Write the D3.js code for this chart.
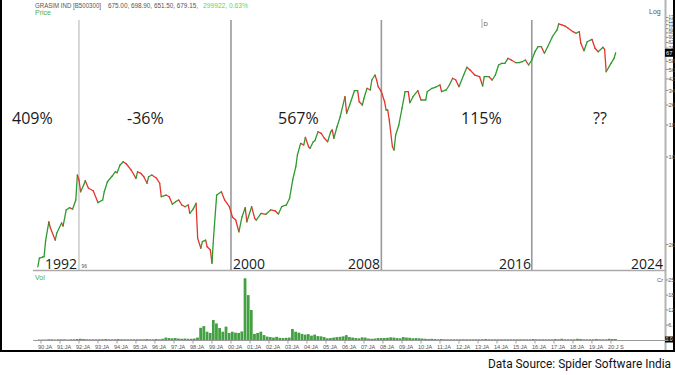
<!DOCTYPE html>
<html>
<head>
<meta charset="utf-8">
<script src="https://cdn.jsdelivr.net/npm/d3@7"></script>
<style>
html, body { margin: 0; padding: 0; background: #fff; }
svg { display: block; }
.small { font-family: "Liberation Sans", Arial, sans-serif; font-size: 7px; fill: #555; }
.big { font-family: "Open Sans", sans-serif; fill: #1a1a1a; }
</style>
</head>
<body>
<div id="chart"></div>
<script>
// price (log scale)
var priceDates = ["1989-11","1989-12","1990-02","1990-03","1990-04","1990-06","1990-07","1990-10","1990-11",
  "1991-02","1991-03","1991-05","1991-07","1991-09","1991-11","1991-12","1992-01","1992-02","1992-04","1992-05",
  "1992-07","1992-10","1993-01","1993-04","1993-05","1993-07","1993-10","1993-12","1994-01","1994-03","1994-05",
  "1994-07","1994-10","1995-01","1995-02","1995-04","1995-06","1995-08","1995-09","1995-11","1996-02","1996-04",
  "1996-05","1996-08","1996-10","1996-12","1997-02","1997-04","1997-06","1997-08","1997-10","1997-11","1998-01",
  "1998-03","1998-04","1998-06","1998-07","1998-09","1998-10","1998-12","1999-01","1999-02","1999-04","1999-07",
  "1999-09","1999-12","2000-02","2000-04","2000-06","2000-08","2000-10","2000-11","2001-02","2001-04","2001-05",
  "2001-08","2001-11","2002-02","2002-05","2002-07","2002-09","2002-12","2003-02","2003-04","2003-06","2003-07",
  "2003-09","2003-11","2003-12","2004-02","2004-03","2004-05","2004-06","2004-08","2004-10","2004-12","2005-02",
  "2005-04","2005-05","2005-06","2005-08","2005-10","2006-01","2006-02","2006-04","2006-07","2006-09","2006-10",
  "2006-12","2007-01","2007-03","2007-05","2007-06","2007-08","2007-09","2007-10","2007-12","2008-02","2008-03",
  "2008-04","2008-05","2008-07","2008-08","2008-09","2008-11","2009-01","2009-03","2009-05","2009-06","2009-08",
  "2009-11","2010-01","2010-04","2010-05","2010-08","2010-10","2011-01","2011-02","2011-05","2011-07","2011-09",
  "2011-11","2012-01","2012-04","2012-06","2012-08","2012-11","2013-02","2013-04","2013-05","2013-08","2013-10",
  "2013-12","2014-02","2014-04","2014-06","2014-08","2014-10","2015-01","2015-03","2015-05","2015-07","2015-09",
  "2015-11","2016-01","2016-03","2016-05","2016-07","2016-09","2016-12","2017-03","2017-04","2017-06","2017-08",
  "2017-10","2018-01","2018-03","2018-05","2018-06","2018-08","2018-10","2019-01","2019-03","2019-05","2019-08",
  "2019-09","2019-10","2020-01","2020-03","2020-04"];
var priceValues = [13.3,15.6,15.9,16.0,21.7,30.4,27.1,21.7,24.7,
  29.7,28.1,37.8,39.4,38.4,45.4,71.8,65.5,52.8,59.8,64.7,
  56.3,53.8,43.2,45.4,52.8,63.5,70.5,76.3,74.9,86.3,91.7,
  87.9,78.7,67.6,76.3,74.1,69.6,61.7,69.6,71.8,67.6,61.7,
  48.2,49.7,48.2,41.9,44.0,45.4,41.4,40.1,41.4,35.5,38.2,
  42.7,22.4,18.7,21.1,21.7,19.2,18.1,14.2,23.1,49.7,52.8,
  45.4,40.1,33.0,31.4,25.3,33.4,39.4,30.4,40.1,32.4,31.4,
  35.5,34.9,37.8,37.1,35.1,40.1,41.4,46.8,65.5,83.7,103.7,
  128.6,124.7,143.6,120.8,117.3,132.5,134.9,159.2,154.6,141.1,132.5,
  159.2,164.3,141.1,174.5,209.8,302.9,223.3,260.1,338.3,338.3,276.4,
  260.1,294.2,353.6,342.8,411.7,451.3,411.7,364.1,332.1,276.4,237.3,
  237.3,197.4,120.8,113.7,149.8,180.1,245,332.1,332.1,271.3,302.9,
  338.3,285.1,285.1,332.1,353.6,360.1,375.7,332.1,342.8,375.7,424.9,
  411.7,364.1,451.3,520.2,495.0,451.3,437.6,368.8,437.6,437.6,411.7,
  451.3,542.5,559.7,559.7,613.6,594.8,566.0,566.0,576.4,594.8,542.5,
  594.8,692.9,759.6,759.6,672.7,759.6,912.5,1033,1153,1132,1111,
  1065,1001,972,1001,808.5,705.7,832.4,870,737.4,692.9,751.3,
  724.2,479.7,559.7,613.6,679.15];

// volume in Cr, two-month bars from volStart
var volStart = "1989-11";
var volValues = [0.2,
  0.2,0.2,0.3,0.3,0.2,0.3,  0.3,0.3,0.2,0.3,0.3,0.4,  0.5,0.4,0.3,0.3,0.3,0.3,
  0.3,0.3,0.4,0.3,0.3,0.3,  0.4,0.3,0.3,0.3,0.3,0.3,  0.3,0.3,0.3,0.4,0.3,0.3,
  0.4,0.3,0.5,1.0,0.8,0.7,  0.8,0.6,0.5,0.6,0.5,0.5,  0.6,1.0,5.0,5.7,3.4,2.9,
  8.2,6.8,4.9,3.4,5.5,2.9,  3.4,3.0,2.9,3.5,25.3,18.4, 12.3,2.5,2.9,3.4,2.0,1.4,
  1.2,1.0,1.3,0.9,0.8,0.9,  1.0,4.5,3.4,3.0,2.5,2.2,  2.4,1.8,2.2,1.6,1.5,1.2,
  0.7,0.8,1.0,1.2,1.3,1.5,  2.0,1.2,1.0,0.8,0.7,1.1,  1.0,0.6,0.5,0.6,0.8,0.8,
  0.8,0.9,1.1,1.0,0.8,0.7,  1.2,1.0,0.9,0.7,0.8,0.7,  0.6,0.5,0.4,0.5,0.4,0.3,
  0.4,0.3,0.3,0.3,0.3,0.3,  0.3,0.3,0.3,0.3,0.3,0.3,  0.3,0.3,0.4,0.3,0.3,0.3,
  0.3,0.3,0.3,0.3,0.3,0.3,  0.3,0.3,0.3,0.3,0.3,0.4,  0.3,0.3,0.3,0.3,0.3,0.3,
  0.4,0.3,0.5,0.3,0.3,0.3,  0.3,0.5,0.4,0.3,0.3,0.3,  0.3,0.4,0.3,0.3,0.3,0.5,
  0.4,0.4];

var priceTicks = [20,100,180,260,340,420,500,580,740,820,900,980,1060,1140,1220,1300];
var volTicks = [6.1, 12.3, 18.4, 24.6];
var volTickLabels = ["6.", "12", "18", "25"];
var xTickLabels = ["90:JA","91:JA","92:JA","93:JA","94:JA","95:JA","96:JA","97:JA","98:JA","99:JA",
  "00:JA","01:JA","02:JA","03:JA","04:JA","05:JA","06:JA","07:JA","08:JA","09:JA",
  "10:JA","11:JA","12:JA","13:JA","14:JA","15:JA","16:JA","17:JA","18:JA","19:JA","20:J S"];
var boundaryDates = ["1992-01", "2000-01", "2007-12", "2015-11"];
var yearLabels = ["1992", "2000", "2008", "2016", "2024"];
var periodLabels = ["409%", "-36%", "567%", "115%", "??"];

var width = 675, height = 375;
var green = "#2f9a2f", red = "#e4342c";
var parse = d3.timeParse("%Y-%m");

var svg = d3.select("#chart").append("svg")
  .attr("width", width)
  .attr("height", height);

var x = d3.scaleTime()
  .domain([new Date(1990, 0, 1), new Date(2021, 0, 1)])
  .range([41, 630]);
var y = d3.scaleLog().domain([12.53, 1792]).range([270, 0]);
var yv = d3.scaleLinear().domain([0, 25]).range([340, 279]);

// frame and panel lines
svg.append("line").attr("x1", 665.5).attr("x2", 665.5).attr("y1", 0).attr("y2", 351)
  .attr("stroke", "#b4b4b4").attr("stroke-width", 2);
svg.append("line").attr("x1", 33).attr("x2", 666).attr("y1", 270.5).attr("y2", 270.5)
  .attr("stroke", "#aaa").attr("stroke-width", 1.5);
svg.append("line").attr("x1", 1).attr("x2", 1).attr("y1", 0).attr("y2", 352)
  .attr("stroke", "#000").attr("stroke-width", 2);
svg.append("line").attr("x1", 674).attr("x2", 674).attr("y1", 0).attr("y2", 352)
  .attr("stroke", "#000").attr("stroke-width", 2);
svg.append("line").attr("x1", 0).attr("x2", 675).attr("y1", 351).attr("y2", 351)
  .attr("stroke", "#000").attr("stroke-width", 2);

// header
svg.append("text").attr("class", "small").attr("x", 35).attr("y", 7.5)
  .attr("textLength", 66).attr("lengthAdjust", "spacingAndGlyphs").text("GRASIM IND [B500300]");
svg.append("text").attr("class", "small").attr("x", 108).attr("y", 7.5)
  .attr("textLength", 90).attr("lengthAdjust", "spacingAndGlyphs").text("675.00, 698.90, 651.50, 679.15,");
svg.append("text").attr("class", "small").attr("x", 203).attr("y", 7.5).style("fill", "#5ad85a")
  .attr("textLength", 45).attr("lengthAdjust", "spacingAndGlyphs").text("299922, 0.63%");
svg.append("text").attr("class", "small").attr("x", 35).attr("y", 15)
  .style("fill", "#4caf4c").text("Price");
svg.append("text").attr("class", "small").attr("x", 649).attr("y", 14).text("Log");
svg.append("text").attr("class", "small").attr("x", 35).attr("y", 280)
  .style("fill", "#4caf4c").text("Vol");
svg.append("text").attr("class", "small").attr("x", 657).attr("y", 282)
  .style("font-size", "6px").text("Cr");

// right price axis
var pAxis = svg.append("g");
priceTicks.forEach(function(t) {
  pAxis.append("line").attr("x1", 666).attr("x2", 668.5)
    .attr("y1", y(t)).attr("y2", y(t)).attr("stroke", "#666").attr("stroke-width", 0.7);
  pAxis.append("text").attr("class", "small").style("font-size", t > 600 ? "4.5px" : "6px")
    .attr("x", 668.5).attr("y", y(t) + (t > 600 ? 1.6 : 2.1)).text(String(t).slice(0, 2));
});
var last = priceValues[priceValues.length - 1];
pAxis.append("rect").attr("x", 665).attr("y", y(last) - 4).attr("width", 8).attr("height", 8).attr("fill", "#000");
pAxis.append("text").attr("class", "small").style("font-size", "6px").style("fill", "#fff")
  .attr("x", 666).attr("y", y(last) + 2.1).text(String(Math.round(last)).slice(0, 2));

// right volume axis
volTicks.forEach(function(t, i) {
  svg.append("line").attr("x1", 666).attr("x2", 668.5)
    .attr("y1", yv(t)).attr("y2", yv(t)).attr("stroke", "#666").attr("stroke-width", 0.7);
  svg.append("text").attr("class", "small").style("font-size", "5.5px")
    .attr("x", 668.3).attr("y", yv(t) + 2).text(volTickLabels[i]);
});
svg.append("rect").attr("x", 665).attr("y", 336.5).attr("width", 8).attr("height", 6).attr("fill", "#000");
svg.append("text").attr("class", "small").style("font-size", "5px").style("fill", "#fff")
  .attr("x", 665.5).attr("y", 341.3).text("0.0");

// volume bars
var v0 = parse(volStart);
svg.append("g").selectAll("rect")
  .data(volValues)
  .enter()
  .append("rect")
  .attr("x", function(d, i) { return x(d3.timeMonth.offset(v0, 2 * i)); })
  .attr("width", function(d, i) {
    return x(d3.timeMonth.offset(v0, 2 * i + 2)) - x(d3.timeMonth.offset(v0, 2 * i)) - 0.4;
  })
  .attr("y", function(d) { return yv(d); })
  .attr("height", function(d) { return yv(0) - yv(d); })
  .attr("fill", "#43a043");

// volume time axis
svg.append("line").attr("x1", 33).attr("x2", 666).attr("y1", 340.5).attr("y2", 340.5)
  .attr("stroke", "#999").attr("stroke-width", 1);
xTickLabels.forEach(function(lbl, i) {
  var tx = x(new Date(1990 + i, 0, 1));
  svg.append("line").attr("x1", tx).attr("x2", tx).attr("y1", 340.5).attr("y2", 343.5)
    .attr("stroke", "#888").attr("stroke-width", 0.8);
  svg.append("text").attr("class", "small").style("font-size", "5.6px")
    .attr("x", tx - 3).attr("y", 349).text(lbl);
});

// period boundaries
boundaryDates.forEach(function(d, i) {
  var bx = x(parse(d));
  svg.append("line").attr("x1", bx).attr("x2", bx).attr("y1", 20).attr("y2", 270)
    .attr("stroke", i === 0 ? "#b0b0b0" : "#999").attr("stroke-width", i === 0 ? 1 : 1.6);
});
svg.append("text").attr("class", "small").style("font-size", "5px").attr("x", 81.5).attr("y", 268).text("96");
svg.append("line").attr("x1", 482).attr("x2", 482).attr("y1", 19).attr("y2", 28)
  .attr("stroke", "#999").attr("stroke-width", 0.8);
svg.append("text").attr("class", "small").style("font-size", "6px").attr("x", 483.5).attr("y", 25.5).text("D");

// price line, coloured by direction
var pts = priceDates.map(function(d, i) { return { date: parse(d), value: priceValues[i] }; });
var line = d3.line()
  .x(function(d) { return x(d.date); })
  .y(function(d) { return y(d.value); });
var lg = svg.append("g");
for (var i = 1; i < pts.length; i++) {
  lg.append("path")
    .attr("d", line([pts[i - 1], pts[i]]))
    .attr("fill", "none")
    .attr("stroke", pts[i].value >= pts[i - 1].value ? green : red)
    .attr("stroke-width", 1.3)
    .attr("stroke-linecap", "round");
}

// annotation text
var yearPos = [[77, "end"], [233, "start"], [380, "end"], [531, "end"], [663, "end"]];
yearLabels.forEach(function(t, i) {
  svg.append("text").attr("class", "big").style("font-size", "14px")
    .attr("x", yearPos[i][0]).attr("y", 269).attr("text-anchor", yearPos[i][1]).text(t);
});
var periodX = [12, 127, 278, 461, 593];
periodLabels.forEach(function(t, i) {
  svg.append("text").attr("class", "big").style("font-size", "16px")
    .attr("x", periodX[i]).attr("y", 124).text(t);
});

svg.append("text")
  .attr("x", 671).attr("y", 368)
  .attr("text-anchor", "end")
  .style("font-family", "Roboto, sans-serif")
  .style("font-size", "12.5px")
  .attr("fill", "#111")
  .attr("textLength", 183)
  .attr("lengthAdjust", "spacingAndGlyphs")
  .text("Data Source: Spider Software India");
</script>
</body>
</html>
